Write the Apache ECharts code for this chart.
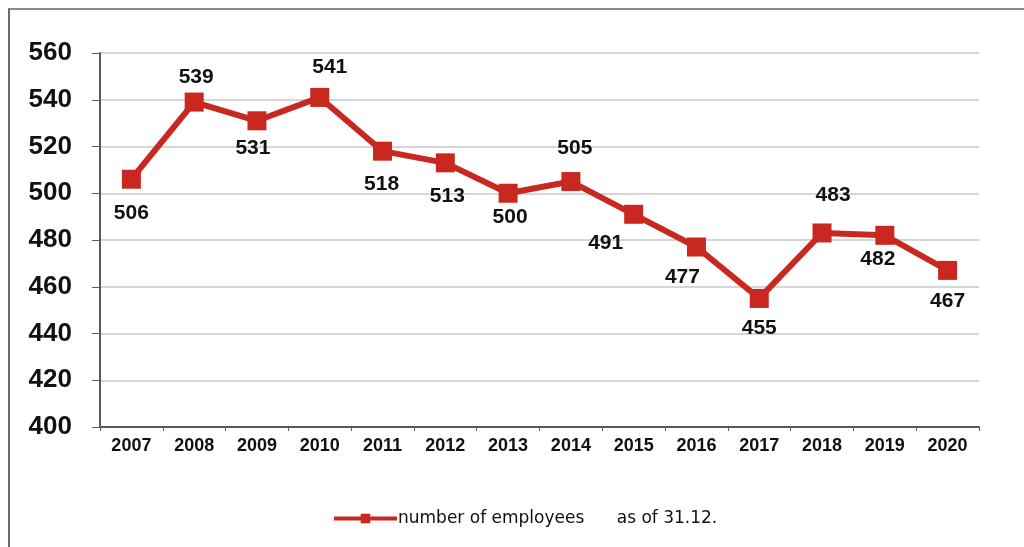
<!DOCTYPE html>
<html>
<head>
<meta charset="utf-8">
<script src="https://cdn.jsdelivr.net/npm/echarts@6/dist/echarts.min.js"></script>
<style>
  html, body { margin: 0; padding: 0; background: #fff; }
  #frame { position: absolute; left: 8px; top: 8px; width: 1030px; height: 560px;
           border-left: 2px solid #6b6b6b; border-top: 2px solid #8a8a8a; box-sizing: border-box; }
  #chart { position: absolute; left: 0; top: 0; width: 1024px; height: 547px; }
</style>
</head>
<body>
<div id="frame"></div>
<div id="chart"></div>
<script>
const years = ['2007','2008','2009','2010','2011','2012','2013','2014','2015','2016','2017','2018','2019','2020'];
const employees = [506, 539, 531, 541, 518, 513, 500, 505, 491, 477, 455, 483, 482, 467];
const seriesName = 'number of employees      as of 31.12.';

// value-label placement relative to each marker centre (px)
const labelDx = [0, 2, -4, 10, -1, 2, 2, 4, -28, -14, 0, 11, -7, 0];
const labelDy = [34, -25, 27, -30, 33, 33, 24, -33, 29, 30, 30, -38, 24, 31];

const red = '#c8281f';
const chart = echarts.init(document.getElementById('chart'));

chart.setOption({
  animation: false,
  grid: { left: 100, right: 45, top: 53, bottom: 120 },
  xAxis: {
    type: 'category',
    data: years,
    boundaryGap: true,
    axisLine: { lineStyle: { color: '#5a5a5a', width: 2 } },
    axisTick: { show: true, length: 4, lineStyle: { color: '#5a5a5a' } },
    axisLabel: { color: '#111', fontFamily: 'Liberation Sans, Arial', fontSize: 18, fontWeight: 'bold', margin: 10 }
  },
  yAxis: {
    type: 'value',
    min: 400, max: 560, interval: 20,
    axisLine: { show: true, lineStyle: { color: '#5a5a5a', width: 2 } },
    axisTick: { show: true, length: 8, lineStyle: { color: '#5a5a5a' } },
    splitLine: { lineStyle: { color: '#d6d6d6', width: 2 } },
    axisLabel: { color: '#111', fontFamily: 'Liberation Sans, Arial', fontSize: 26, fontWeight: 'bold', margin: 28 }
  },
  legend: {
    top: 505, left: 327,
    itemWidth: 63, itemHeight: 12,
    lineStyle: { width: 4 },
    textStyle: { color: '#111', fontFamily: 'DejaVu Sans', fontSize: 17, padding: [0, 0, 0, -4] },
    data: [seriesName]
  },
  series: [{
    name: seriesName,
    type: 'line',
    data: employees.map((v, i) => ({
      value: v,
      label: { offset: [labelDx[i], labelDy[i]] }
    })),
    symbol: 'rect',
    symbolSize: 19,
    lineStyle: { color: red, width: 6 },
    itemStyle: { color: red },
    label: {
      show: true,
      position: 'inside',
      color: '#111',
      fontFamily: 'Liberation Sans, Arial',
      fontSize: 21,
      fontWeight: 'bold'
    }
  }]
});
</script>
</body>
</html>
